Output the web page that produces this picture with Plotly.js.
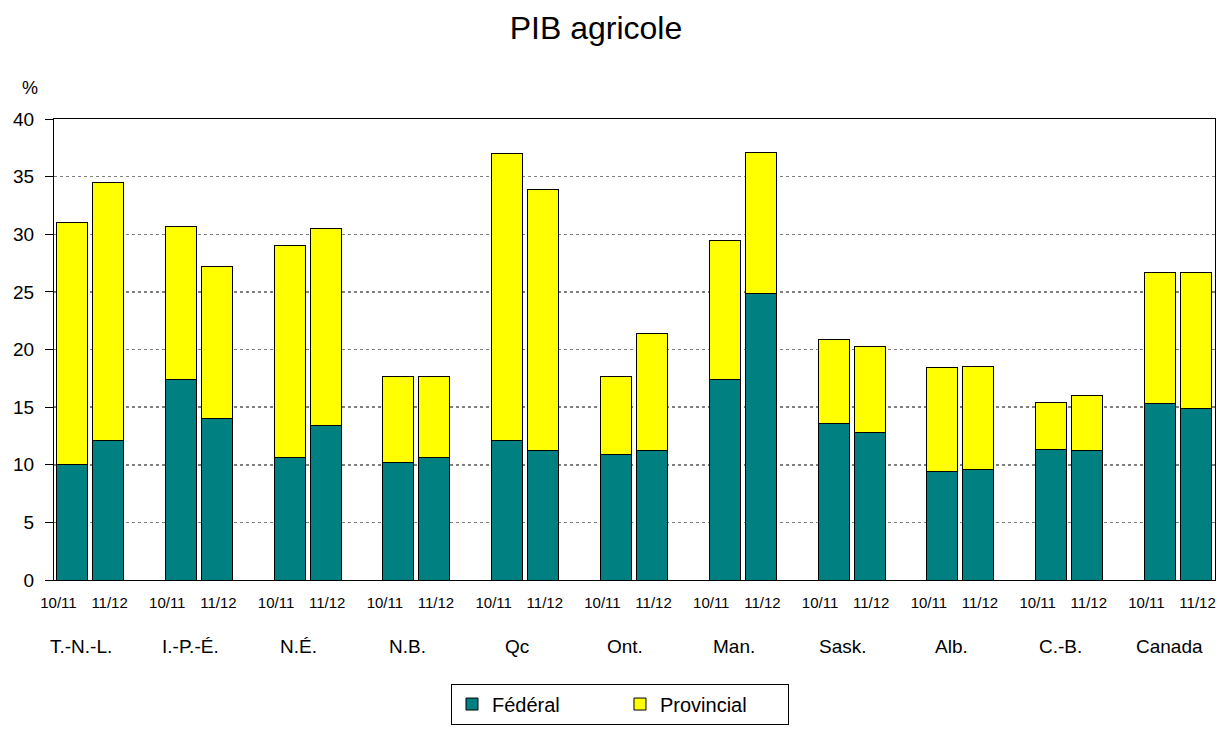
<!DOCTYPE html>
<html>
<head>
<meta charset="utf-8">
<script src="https://cdn.plot.ly/plotly-3.0.1.min.js"></script>
<style>html,body{margin:0;padding:0;background:#fff;}#chart{width:1225px;height:734px;}</style>
</head>
<body>
<div id="chart"></div>
<script>
// ---- Data ----
const categories = ["T.-N.-L.", "I.-P.-É.", "N.É.", "N.B.", "Qc", "Ont.", "Man.", "Sask.", "Alb.", "C.-B.", "Canada"];
const years = ["10/11", "11/12"];
const federal_1011 = [10.0, 17.4, 10.6, 10.2, 12.1, 10.9, 17.4, 13.6, 9.4, 11.3, 15.3];
const federal_1112 = [12.1, 14.0, 13.4, 10.6, 11.2, 11.2, 24.9, 12.8, 9.6, 11.2, 14.9];
const total_1011   = [31.0, 30.7, 29.0, 17.7, 37.0, 17.7, 29.5, 20.9, 18.4, 15.4, 26.7];
const total_1112   = [34.5, 27.2, 30.5, 17.7, 33.9, 21.4, 37.1, 20.3, 18.5, 16.0, 26.7];
const provincial_1011 = total_1011.map((t, i) => +(t - federal_1011[i]).toFixed(2));
const provincial_1112 = total_1112.map((t, i) => +(t - federal_1112[i]).toFixed(2));

// ---- Positions (layout only) ----
const idx = categories.map((c, i) => i);
const BAR_OFF = 0.165, BAR_W = 0.285;
const x1011 = idx.map(i => i - BAR_OFF);
const x1112 = idx.map(i => i + BAR_OFF);

const TEAL = "#008080", YELLOW = "#FFFF00";
const line = {color: "#000000", width: 1};
const FONT = "Liberation Sans, Arial, sans-serif";

const traces = [
  {type: "bar", x: x1011, y: federal_1011, width: BAR_W, name: "Fédéral", legendgroup: "fed",
   marker: {color: TEAL, line: line}, showlegend: true},
  {type: "bar", x: x1112, y: federal_1112, width: BAR_W, name: "Fédéral", legendgroup: "fed",
   marker: {color: TEAL, line: line}, showlegend: false},
  {type: "bar", x: x1011, y: provincial_1011, width: BAR_W, name: "Provincial", legendgroup: "prov",
   marker: {color: YELLOW, line: line}, showlegend: true},
  {type: "bar", x: x1112, y: provincial_1112, width: BAR_W, name: "Provincial", legendgroup: "prov",
   marker: {color: YELLOW, line: line}, showlegend: false}
];

// year tick labels under each bar pair
const tickvals = [], ticktext = [];
idx.forEach(i => {
  tickvals.push(i - 0.29); ticktext.push(years[0]);
  tickvals.push(i + 0.18); ticktext.push(years[1]);
});

const annotations = categories.map((c, i) => ({
  text: c, x: i - 0.08, xref: "x", y: -0.144, yref: "paper",
  xanchor: "center", yanchor: "middle", showarrow: false,
  font: {family: FONT, size: 19, color: "#000"}
}));
annotations.push({
  text: "%", xref: "paper", yref: "paper",
  x: (30 - 54) / 1161, y: (591 - 87) / 472,
  xanchor: "center", yanchor: "middle", showarrow: false,
  font: {family: FONT, size: 18, color: "#000"}
});

const layout = {
  width: 1225, height: 734,
  margin: {l: 54, r: 10, t: 119, b: 143, pad: 0},
  paper_bgcolor: "#ffffff", plot_bgcolor: "#ffffff",
  font: {family: FONT, color: "#000"},
  title: {text: "PIB agricole", xref: "container", x: 596 / 1225, xanchor: "center",
          yref: "container", y: 1 - 28 / 734, yanchor: "middle",
          font: {size: 32, color: "#000"}},
  barmode: "stack",
  showlegend: true,
  legend: {orientation: "h", x: 0.4875, xanchor: "center", y: -0.2246, yanchor: "top",
           bordercolor: "#000", borderwidth: 1, bgcolor: "#fff",
           font: {size: 20, color: "#000"}, entrywidth: 123, traceorder: "normal"},
  xaxis: {
    range: [-0.331, 10.34], showgrid: false, zeroline: false,
    showline: true, linecolor: "#000", linewidth: 1, mirror: true,
    tickmode: "array", tickvals: tickvals, ticktext: ticktext,
    ticks: "", tickfont: {size: 15, color: "#000"}, ticklabelstandoff: 9
  },
  yaxis: {
    range: [0, 40], dtick: 5, tick0: 0,
    showgrid: true, gridcolor: "#808080", griddash: "3px,3px", gridwidth: 1.5,
    zeroline: false, showline: true, linecolor: "#000", linewidth: 1, mirror: true,
    ticks: "outside", ticklen: 8, tickcolor: "#000",
    tickfont: {size: 19, color: "#000"}, ticklabelstandoff: 7
  },
  annotations: annotations
};

Plotly.newPlot("chart", traces, layout, {displayModeBar: false, staticPlot: true});
</script>
</body>
</html>
